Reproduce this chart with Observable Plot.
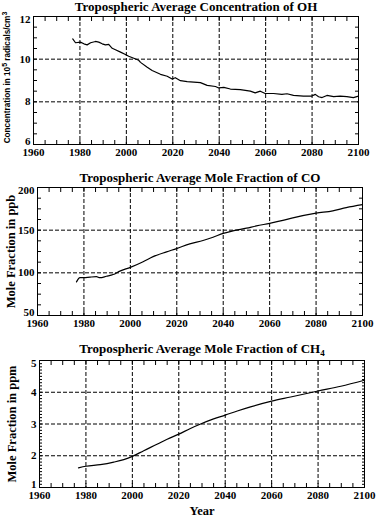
<!DOCTYPE html>
<html><head><meta charset="utf-8">
<script src="https://cdn.jsdelivr.net/npm/d3@7"></script>
<script src="https://cdn.jsdelivr.net/npm/@observablehq/plot@0.6"></script>
<style>
body{margin:0;background:#fff}
#chart{width:384px;height:517px;overflow:hidden}
#chart svg{display:block;background:#fff}
</style>
</head><body><div id="chart"></div>
<script>
// ---- tick labels ----
const xTicks = [1960, 1980, 2000, 2020, 2040, 2060, 2080, 2100];
const xGrid = [1980, 2000, 2020, 2040, 2060, 2080];
const xMinor = d3.range(1960, 2101, 5);

const ohTicks = [6, 8, 10, 12];
const ohGrid = [8, 10];
const ohMinor = d3.range(6, 12.01, 0.5);

const coTicks = [50, 100, 150, 200];
const coGrid = [100, 150];
const coMinor = d3.range(50, 200.01, 12.5);

const ch4Ticks = [1, 2, 3, 4, 5];
const ch4Grid = [2, 3, 4];
const ch4Minor = d3.range(1, 5.001, 0.1);

// ---- series ----
const ohYear = [1976.9,1978.1,1980.2,1981.7,1983.1,1984.6,1986.7,1988.1,1989.6,1991,1992.4,1993.9,1995.3,1997.5,1999.6,2001,2003.2,2005.3,2006.1,2009,2011.1,2014.7,2017.6,2019.7,2021.1,2023.3,2026.2,2031.9,2034.8,2038.4,2039.8,2042,2044.8,2049.1,2053.4,2055.5,2057.7,2059.8,2063.4,2067,2069.2,2072,2076.3,2079.9,2081.4,2082.8,2084.3,2086.4,2089.3,2092.1,2095,2097.8,2100];
const ohValue = [10.95,10.77,10.8,10.72,10.67,10.77,10.83,10.8,10.72,10.67,10.69,10.51,10.44,10.33,10.22,10.14,10.04,9.95,9.85,9.62,9.47,9.29,9.2,9.07,9.13,8.99,8.95,8.9,8.77,8.72,8.65,8.68,8.6,8.57,8.5,8.42,8.5,8.39,8.39,8.35,8.38,8.3,8.27,8.27,8.35,8.24,8.2,8.3,8.24,8.27,8.24,8.2,8.27];

const coYear = [1976.8,1978.3,1980,1982.6,1985.4,1986.9,1989.7,1992.6,1995.5,2000,2005.5,2009.8,2015.6,2019.9,2025.6,2031.3,2035.6,2040,2044.2,2050,2054.3,2060,2065.7,2070,2080,2087.2,2093,2100];
const coValue = [89.4,94.3,94.3,95,95.5,94.3,96,98,102,106.4,113,119,124.6,128.4,134,137.9,141.7,146.2,149.2,152.3,155,158,161.4,164.4,170,172.7,176.5,180];

const ch4Year = [1976.8,1980,1986.2,1992,1996.3,2000,2004.9,2010.6,2015,2020,2025,2029.4,2035,2040,2045.2,2050.9,2060,2068.2,2080,2089.8,2100];
const ch4Value = [1.62,1.67,1.72,1.8,1.88,1.98,2.16,2.36,2.52,2.68,2.86,3.0,3.16,3.28,3.41,3.54,3.72,3.85,4.04,4.19,4.38];

const titles = [
  "Tropospheric Average Concentration of OH",
  "Tropospheric Average Mole Fraction of CO",
  "Tropospheric Average Mole Fraction of CH4"
];
const yLabels = [
  "Concentration in 105 radicals/cm3",
  "Mole Fraction in ppb",
  "Mole Fraction in ppm"
];
const xLabel = "Year";

const serif = "'Liberation Serif','Times New Roman',serif";
const fmt = d => String(d);

function panel(o) {
  const grid = {stroke: "#000", strokeOpacity: 1, strokeWidth: 1, strokeDasharray: "4,2"};
  const tk = {color: "#000", strokeOpacity: 1, tickFormat: () => "", label: null};
  const txt = {color: "#000", tickSize: 0, label: null, fontSize: 11, fontWeight: "bold", fontFamily: serif, tickFormat: fmt};
  const n = o.ticks.length;
  const marks = [
    Plot.gridX(xGrid, grid),
    Plot.gridY(o.grid, grid),
    Plot.axisX(xMinor, {anchor: "bottom", tickSize: -4, ...tk}),
    Plot.axisX(xMinor, {anchor: "top", tickSize: -4, ...tk}),
    Plot.axisY(o.minor, {anchor: "left", tickSize: o.minorSize, ...tk}),
    Plot.axisY(o.minor, {anchor: "right", tickSize: o.minorSize, ...tk}),
    Plot.axisX(xTicks, {anchor: "bottom", tickPadding: 4, ...txt}),
    Plot.axisY(o.ticks.slice(1, n - 1), {anchor: "left", tickPadding: 3, ...txt}),
    Plot.axisY([o.ticks[0]], {anchor: "left", tickPadding: 3, dy: -3, ...txt}),
    Plot.axisY([o.ticks[n - 1]], {anchor: "left", tickPadding: 3, dy: 3, ...txt}),
    Plot.frame({stroke: "#000", strokeWidth: 1}),
    Plot.line(o.x.map((d, i) => ({x: d, y: o.y[i]})), {x: "x", y: "y", stroke: "#000", strokeWidth: 1.2, curve: o.curve || "linear"}),
    Plot.text([o.title], {frameAnchor: "top", dy: o.titleDy, textAnchor: "middle", lineAnchor: "middle", fontSize: 13, fontWeight: "bold", fontFamily: serif, fill: "#000"}),
    Plot.text([o.ylabel], {frameAnchor: "left", rotate: -90, dx: o.ylabelDx, dy: o.ylabelDy || 0, textAnchor: "middle", lineAnchor: "middle", fontSize: o.ylabelSize, fontWeight: "bold", fontFamily: o.ylabelFont, fill: "#000"})
  ];
  if (o.xlabel) marks.push(Plot.text([o.xlabel], {frameAnchor: "bottom", dy: o.xlabelDy, textAnchor: "middle", lineAnchor: "middle", fontSize: 12.5, fontWeight: "bold", fontFamily: serif, fill: "#000"}));
  return Plot.plot({
    width: 384, height: o.height,
    marginTop: o.mt, marginBottom: o.mb, marginLeft: o.ml, marginRight: o.mr,
    style: {fontFamily: serif, background: "#fff", overflow: "visible"},
    x: {domain: [1960, 2100]},
    y: {domain: o.domain},
    marks
  });
}

const chart = document.getElementById("chart");

const p1 = panel({height: 172, mt: 16, mb: 28, ml: 33, mr: 26, domain: [6, 12],
  ticks: ohTicks, grid: ohGrid, minor: ohMinor, minorSize: -4, x: ohYear, y: ohValue,
  title: titles[0], titleDy: -10, ylabel: yLabels[0], ylabelDx: -26, ylabelDy: -3, ylabelSize: 8.2,
  ylabelFont: "'Liberation Sans','DejaVu Sans',sans-serif"});
const p2 = panel({height: 168, mt: 15, mb: 25, ml: 37, mr: 22, domain: [50, 200],
  ticks: coTicks, grid: coGrid, minor: coMinor, minorSize: -4, x: coYear, y: coValue, curve: "monotone-x",
  title: titles[1], titleDy: -10, ylabel: yLabels[1], ylabelDx: -27, ylabelSize: 12.5, ylabelFont: serif});
const p3 = panel({height: 177, mt: 20, mb: 30, ml: 39, mr: 20, domain: [1, 5],
  ticks: ch4Ticks, grid: ch4Grid, minor: ch4Minor, minorSize: -3, x: ch4Year, y: ch4Value, curve: "monotone-x",
  title: titles[2], titleDy: -12, ylabel: yLabels[2], ylabelDx: -28, ylabelSize: 12.5, ylabelFont: serif,
  xlabel: xLabel, xlabelDy: 23});

chart.append(p1, p2, p3);

// sub/superscripts as real text
function rich(svg, full, parts) {
  d3.select(svg).selectAll("text").filter(function() { return this.textContent === full; }).each(function() {
    const t = d3.select(this);
    t.text(null);
    for (const p of parts) {
      const s = t.append("tspan").text(p.t);
      if (p.dy) s.attr("dy", p.dy);
      if (p.size) s.attr("font-size", p.size);
    }
  });
}
rich(p3, titles[2], [{t: "Tropospheric Average Mole Fraction of CH"}, {t: "4", dy: 3, size: 9}]);
rich(p1, yLabels[0], [{t: "Concentration in 10"}, {t: "5", dy: -3, size: 7}, {t: " radicals/cm", dy: 3}, {t: "3", dy: -3, size: 7}]);
</script></body></html>
